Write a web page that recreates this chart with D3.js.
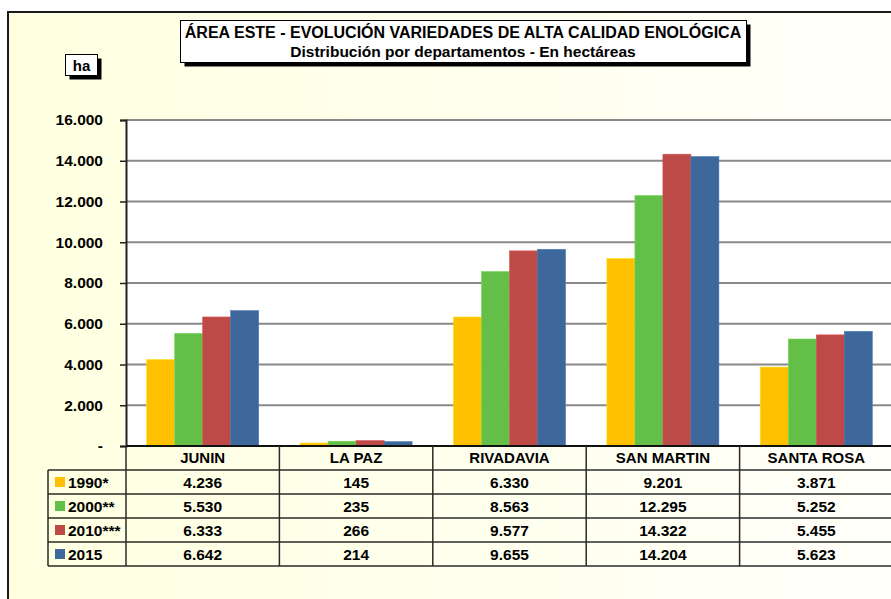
<!DOCTYPE html>
<html>
<head>
<meta charset="utf-8">
<script src="https://cdn.jsdelivr.net/npm/d3@7"></script>
<style>
    body { margin: 0; background: #fff; }
    svg text { font-family: 'Liberation Sans', Arial, sans-serif; font-weight: bold; fill: #000; }
</style>
</head>
<body>
<div id="content"></div>
<script>
'use strict';

var departments = ['JUNIN', 'LA PAZ', 'RIVADAVIA', 'SAN MARTIN', 'SANTA ROSA'];
var seriesNames = ['1990*', '2000**', '2010***', '2015'];
var seriesColors = ['#FFC000', '#64BF49', '#BE4A47', '#3E679C'];
var values1990 = [4236, 145, 6330, 9201, 3871];
var values2000 = [5530, 235, 8563, 12295, 5252];
var values2010 = [6333, 266, 9577, 14322, 5455];
var values2015 = [6642, 214, 9655, 14204, 5623];
var yTicks = [0, 2000, 4000, 6000, 8000, 10000, 12000, 14000, 16000];

var titleLine1 = 'ÁREA ESTE - EVOLUCIÓN VARIEDADES DE ALTA CALIDAD ENOLÓGICA';
var titleLine2 = 'Distribución por departamentos - En hectáreas';

function run() {
    var width = 891, height = 599;
    var plot = { left: 126, right: 893, top: 120, bottom: 446 };
    var rowH = 24;

    var series = seriesNames.map(function (name, i) {
        return { name: name, color: seriesColors[i], values: [values1990, values2000, values2010, values2015][i] };
    });

    var locale = d3.formatLocale({ decimal: ',', thousands: '.', grouping: [3], currency: ['$', ''] });
    var fmt = locale.format(',d');

    var svg = d3.select('#content').append('svg')
        .attr('width', width)
        .attr('height', height);

    var grad = svg.append('defs').append('linearGradient')
        .attr('id', 'bg')
        .attr('x1', 0).attr('x2', 1).attr('y1', 0).attr('y2', 0);
    grad.append('stop').attr('offset', 0).attr('stop-color', '#FFFFE0');
    grad.append('stop').attr('offset', 1).attr('stop-color', '#FFFFFA');

    // outer frame
    svg.append('rect')
        .attr('x', 8).attr('y', 12)
        .attr('width', width).attr('height', height)
        .attr('fill', 'url(#bg)')
        .attr('stroke', '#1a1a1a')
        .attr('stroke-width', 2);

    // plot area
    svg.append('rect')
        .attr('x', plot.left).attr('y', plot.top)
        .attr('width', plot.right - plot.left).attr('height', plot.bottom - plot.top)
        .attr('fill', '#fff');

    var x0 = d3.scaleBand()
        .domain(departments)
        .range([plot.left, plot.right]);

    var x1 = d3.scaleBand()
        .domain(seriesNames)
        .range([0, x0.bandwidth()])
        .paddingOuter(0.74);

    var y = d3.scaleLinear()
        .domain([0, 16000])
        .range([plot.bottom, plot.top]);

    // gridlines
    svg.append('g').selectAll('line')
        .data(yTicks.filter(function (d) { return d > 0; }))
        .enter().append('line')
        .attr('x1', plot.left).attr('x2', plot.right)
        .attr('y1', function (d) { return y(d); })
        .attr('y2', function (d) { return y(d); })
        .attr('stroke', '#8a8a8a')
        .attr('stroke-width', 2);

    // bars
    var groups = svg.append('g').selectAll('g')
        .data(series)
        .enter().append('g')
        .attr('fill', function (d) { return d.color; });

    groups.selectAll('rect')
        .data(function (s) {
            return s.values.map(function (v, i) { return { dep: departments[i], name: s.name, value: v, color: s.color }; });
        })
        .enter().append('rect')
        .attr('x', function (d) { return x0(d.dep) + x1(d.name); })
        .attr('y', function (d) { return y(d.value); })
        .attr('width', x1.bandwidth())
        .attr('height', function (d) { return y(0) - y(d.value); })
        .attr('stroke', function (d) { return d3.color(d.color).brighter(0.4); })
        .attr('stroke-width', 0.6);

    // y axis
    var yAxis = svg.append('g')
        .attr('transform', 'translate(' + plot.left + ',0)')
        .call(d3.axisLeft(y)
            .tickValues(yTicks)
            .tickSize(6)
            .tickPadding(17)
            .tickFormat(function (d) { return d === 0 ? '-' : fmt(d); }));
    yAxis.select('.domain').attr('stroke', '#222').attr('stroke-width', 2);
    yAxis.selectAll('.tick line').attr('stroke', '#222').attr('stroke-width', 1.5);
    yAxis.selectAll('.tick text')
        .style('font-size', '15.5px')
        .attr('fill', '#000');

    // data table
    var table = svg.append('g');
    var tableLeft = 48;
    var tableBottom = plot.bottom + rowH * (seriesNames.length + 1);
    var lineColor = '#2a2a2a';

    // horizontal lines
    table.append('line')
        .attr('x1', plot.left).attr('x2', plot.right)
        .attr('y1', plot.bottom).attr('y2', plot.bottom)
        .attr('stroke', '#111').attr('stroke-width', 2);
    d3.range(1, seriesNames.length + 2).forEach(function (r) {
        table.append('line')
            .attr('x1', tableLeft).attr('x2', plot.right)
            .attr('y1', plot.bottom + r * rowH).attr('y2', plot.bottom + r * rowH)
            .attr('stroke', lineColor).attr('stroke-width', 1.5);
    });

    // vertical lines
    table.append('line')
        .attr('x1', tableLeft).attr('x2', tableLeft)
        .attr('y1', plot.bottom + rowH).attr('y2', tableBottom)
        .attr('stroke', lineColor).attr('stroke-width', 1.5);
    departments.forEach(function (dep) {
        table.append('line')
            .attr('x1', x0(dep)).attr('x2', x0(dep))
            .attr('y1', plot.bottom).attr('y2', tableBottom)
            .attr('stroke', lineColor).attr('stroke-width', 1.5);
    });

    // category names
    table.selectAll('.cat')
        .data(departments)
        .enter().append('text')
        .attr('class', 'cat')
        .attr('x', function (d) { return x0(d) + x0.bandwidth() / 2; })
        .attr('y', plot.bottom + rowH / 2)
        .attr('dy', '0.36em')
        .attr('text-anchor', 'middle')
        .style('font-size', '15px')
        .text(function (d) { return d; });

    // legend + values
    series.forEach(function (s, r) {
        var cy = plot.bottom + (r + 1) * rowH + rowH / 2;
        table.append('rect')
            .attr('x', tableLeft + 7).attr('y', cy - 5)
            .attr('width', 10).attr('height', 10)
            .attr('fill', s.color);
        table.append('text')
            .attr('x', tableLeft + 20).attr('y', cy)
            .attr('dy', '0.36em')
            .style('font-size', '15.5px')
            .text(s.name);
        s.values.forEach(function (v, i) {
            table.append('text')
                .attr('x', x0(departments[i]) + x0.bandwidth() / 2)
                .attr('y', cy)
                .attr('dy', '0.36em')
                .attr('text-anchor', 'middle')
                .style('font-size', '15.5px')
                .text(fmt(v));
        });
    });

    // boxed labels with shadow
    function shadowBox(x, yTop, w, h) {
        svg.append('rect')
            .attr('x', x + 4).attr('y', yTop + 4)
            .attr('width', w).attr('height', h)
            .attr('fill', '#000');
        svg.append('rect')
            .attr('x', x).attr('y', yTop)
            .attr('width', w).attr('height', h)
            .attr('fill', '#fff')
            .attr('stroke', '#000')
            .attr('stroke-width', 1);
    }

    shadowBox(180.5, 20.5, 566, 42);
    svg.append('text')
        .attr('x', 463).attr('y', 38)
        .attr('text-anchor', 'middle')
        .style('font-size', '16px')
        .text(titleLine1);
    svg.append('text')
        .attr('x', 463).attr('y', 57)
        .attr('text-anchor', 'middle')
        .style('font-size', '15.5px')
        .text(titleLine2);

    shadowBox(65.5, 54.5, 32, 21);
    svg.append('text')
        .attr('x', 81.5).attr('y', 70.5)
        .attr('text-anchor', 'middle')
        .style('font-size', '15px')
        .text('ha');
}

document.addEventListener('DOMContentLoaded', run);
</script>
</body>
</html>
